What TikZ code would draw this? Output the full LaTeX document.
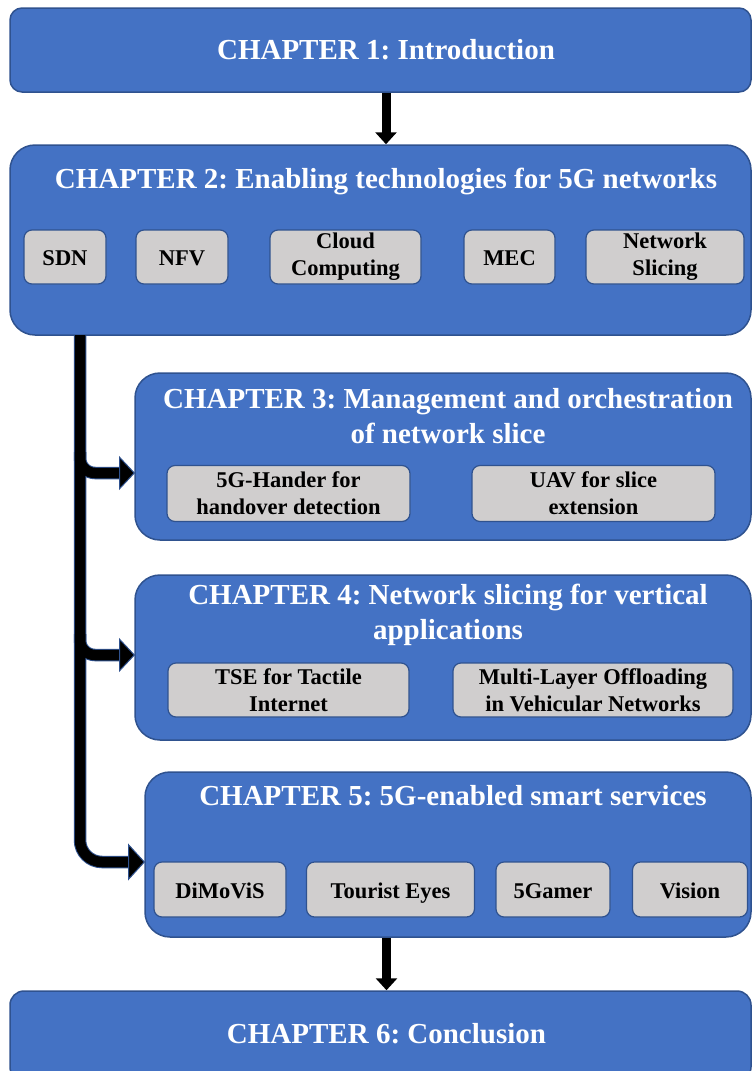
\documentclass[tikz,border=0pt]{standalone}
\usepackage{fontspec}
\setmainfont{Liberation Serif}
\usetikzlibrary{arrows.meta}
\definecolor{cFill}{HTML}{4472C4}
\definecolor{cLine}{HTML}{2F528F}
\definecolor{cSub}{HTML}{D0CECE}
\frenchspacing
\begin{document}
\begin{tikzpicture}[x=1pt,y=-1pt,
  chap/.style={draw=cLine, fill=cFill, line width=1.5pt, inner sep=0pt, rectangle, rounded corners=25pt},
  chaptitle/.style={text=white, font=\bfseries\fontsize{29}{35}\selectfont, align=center, inner sep=0pt},
  subbox/.style={draw=cLine, fill=cSub, line width=1.2pt, rounded corners=8pt, inner sep=0pt,
    font=\bfseries\fontsize{22.5}{27}\selectfont, align=center},
  onel/.style={text height=20pt, text depth=3pt},
  varrow/.style={line width=9pt, -{Triangle[width=21pt,length=12pt]}},
  outl/.style={cLine, line width=12.5pt},
  blk/.style={black, line width=10.5pt}]
\clip (0,0) rectangle (752,1071);
% chapter boxes
\node[chap, rounded corners=12pt, minimum width=741pt, minimum height=84pt] (c1) at (380.5,50) {};
\node[chap, minimum width=741pt, minimum height=190pt] (c2) at (380.5,240) {};
\node[chap, minimum width=616pt, minimum height=167pt] (c3) at (443,456.5) {};
\node[chap, minimum width=616pt, minimum height=165pt] (c4) at (443,657.5) {};
\node[chap, minimum width=606pt, minimum height=165pt] (c5) at (448,854.5) {};
\node[chap, rounded corners=14pt, minimum width=741pt, minimum height=90pt] (c6) at (380.5,1036) {};
% titles
\node[chaptitle] (t1) at (386,50) {CHAPTER 1: Introduction};
\node[chaptitle] (t2) at (386,181) {CHAPTER 2: Enabling technologies for 5G networks};
\node[chaptitle] (t3) at (448,416) {CHAPTER 3: Management and orchestration\\of network slice};
\node[chaptitle] (t4) at (448,615) {CHAPTER 4: Network slicing for vertical\\applications};
\node[chaptitle] (t5) at (453,796) {CHAPTER 5: 5G-enabled smart services};
\node[chaptitle] (t6) at (386.5,1034) {CHAPTER 6: Conclusion};
% sub boxes chapter 2
\node[subbox, onel, minimum width=82pt, minimum height=54pt] (sdn) at (65,257) {SDN};
\node[subbox, onel, minimum width=92pt, minimum height=54pt] (nfv) at (182,257) {NFV};
\node[subbox, minimum width=151pt, minimum height=54pt] (cc) at (345.5,257) {Cloud\\Computing};
\node[subbox, onel, minimum width=91pt, minimum height=54pt] (mec) at (509.5,257) {MEC};
\node[subbox, minimum width=158pt, minimum height=54pt] (ns) at (665,257) {Network\\Slicing};
% chapter 3
\node[subbox, minimum width=243pt, minimum height=56pt] (hand) at (288.5,493.5) {5G-Hander for\\handover detection};
\node[subbox, minimum width=243pt, minimum height=56pt] (uav) at (593.5,493.5) {UAV for slice\\extension};
% chapter 4
\node[subbox, minimum width=241pt, minimum height=54pt] (tse) at (288.5,690) {TSE for Tactile\\Internet};
\node[subbox, minimum width=280pt, minimum height=54pt] (mlo) at (593,690) {Multi-Layer Offloading\\in Vehicular Networks};
% chapter 5
\node[subbox, onel, minimum width=132pt, minimum height=55pt] (dim) at (220,889.5) {DiMoViS};
\node[subbox, onel, minimum width=168pt, minimum height=55pt] (tour) at (390.5,889.5) {Tourist Eyes};
\node[subbox, onel, minimum width=114pt, minimum height=55pt] (gam) at (553,889.5) {5Gamer};
\node[subbox, onel, minimum width=115pt, minimum height=55pt] (vis) at (690,889.5) {Vision};
% straight arrows
\draw[varrow] (t1 |- c1.south) -- (t1 |- c2.north);
\draw[varrow] (t6 |- c5.south) -- (t6 |- c6.north);
% spine and branches
\coordinate (spTop) at (80,335);
\coordinate (b3) at (80,452);
\coordinate (b4) at (80,634);
\coordinate (e3) at (135,473);
\coordinate (e4) at (135,655);
\coordinate (e5) at (145,862);
\draw[outl, rounded corners=22pt, shorten >=16pt] (spTop) |- (e5);
\draw[outl, rounded corners=15pt, shorten >=15pt] (b3) |- (e3);
\draw[outl, rounded corners=15pt, shorten >=15pt] (b4) |- (e4);
\draw[blk, rounded corners=22pt, -{Triangle[width=37pt,length=17pt,line width=1pt,color=cLine,fill=black]}] (spTop) |- (e5);
\draw[blk, rounded corners=15pt, -{Triangle[width=34pt,length=16pt,line width=1pt,color=cLine,fill=black]}] (b3) |- (e3);
\draw[blk, rounded corners=15pt, -{Triangle[width=34pt,length=16pt,line width=1pt,color=cLine,fill=black]}] (b4) |- (e4);
\end{tikzpicture}
\end{document}
